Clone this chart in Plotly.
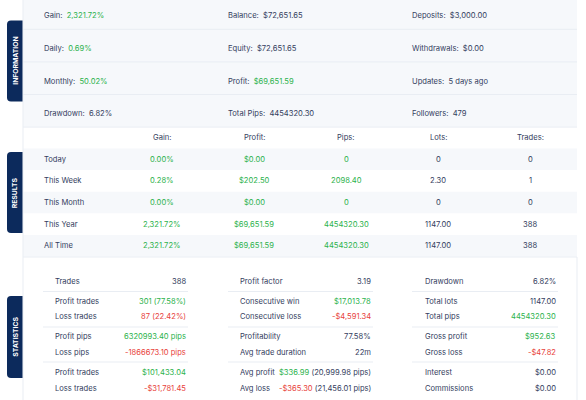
import plotly.graph_objects as go

# ---- data ----
INFO_LABELS = [
    ['Gain:', 'Balance:', 'Deposits:'],
    ['Daily:', 'Equity:', 'Withdrawals:'],
    ['Monthly:', 'Profit:', 'Updates:'],
    ['Drawdown:', 'Total Pips:', 'Followers:'],
]
INFO_VALUES = [
    ['2,321.72%', '$72,651.65', '$3,000.00'],
    ['0.69%', '$72,651.65', '$0.00'],
    ['50.02%', '$69,651.59', '5 days ago'],
    ['6.82%', '4454320.30', '479'],
]
INFO_GREEN = {'Gain:', 'Daily:', 'Monthly:', 'Profit:'}

RESULT_COLUMNS = ['Gain:', 'Profit:', 'Pips:', 'Lots:', 'Trades:']
RESULT_ROWS = ['Today', 'This Week', 'This Month', 'This Year', 'All Time']
RESULT_GAIN = ['0.00%', '0.28%', '0.00%', '2,321.72%', '2,321.72%']
RESULT_PROFIT = ['$0.00', '$202.50', '$0.00', '$69,651.59', '$69,651.59']
RESULT_PIPS = ['0', '2098.40', '0', '4454320.30', '4454320.30']
RESULT_LOTS = ['0', '2.30', '0', '1147.00', '1147.00']
RESULT_TRADES = ['0', '1', '0', '388', '388']
RESULT_GREEN_COLS = {'Gain:', 'Profit:', 'Pips:'}

STAT_LABELS_1 = ['Trades', 'Profit trades', 'Loss trades', 'Profit pips', 'Loss pips', 'Profit trades', 'Loss trades']
STAT_VALUES_1 = ['388', '301 (77.58%)', '87 (22.42%)', '6320993.40 pips', '-1866673.10 pips', '$101,433.04', '-$31,781.45']
STAT_LABELS_2 = ['Profit factor', 'Consecutive win', 'Consecutive loss', 'Profitability', 'Avg trade duration', 'Avg profit', 'Avg loss']
STAT_VALUES_2 = ['3.19', '$17,013.78', '-$4,591.34', '77.58%', '22m', '$336.99', '-$365.30']
STAT_EXTRA_2 = ['', '', '', '', '', '(20,999.98 pips)', '(21,456.01 pips)']
STAT_LABELS_3 = ['Drawdown', 'Total lots', 'Total pips', 'Gross profit', 'Gross loss', 'Interest', 'Commissions']
STAT_VALUES_3 = ['6.82%', '1147.00', '4454320.30', '$952.63', '-$47.82', '$0.00', '$0.00']
STAT_GREEN = {'Profit trades', 'Profit pips', 'Consecutive win', 'Avg profit', 'Total pips', 'Gross profit'}
STAT_RED = {'Loss trades', 'Loss pips', 'Consecutive loss', 'Avg loss', 'Gross loss'}

TABS = ['INFORMATION', 'RESULTS', 'STATISTICS']

# ---- style ----
FONT = 'Inter'
TXT = '#34405e'
GREEN = '#2bb24c'
RED = '#e8413b'
NAVY = '#0c2a5c'
PANEL = '#f6f8fb'
LINE = '#e9edf3'
FS = 7.6

W, H = 586, 400
X0, X1 = 23, 577

fig = go.Figure()
shapes = []
ann = []


def tone(label, value, greens, reds=()):
    if value.startswith('-') or label in reds:
        return RED
    if label in greens:
        return GREEN
    return TXT


def text(x, y, s, color=TXT, anchor='left', size=FS):
    ann.append(dict(x=x, y=y, xref='x', yref='y', text=s, showarrow=False,
                    xanchor=anchor, yanchor='middle',
                    font=dict(family=FONT, size=size, color=color)))


def hline(xa, xb, y, color=LINE):
    shapes.append(dict(type='line', xref='x', yref='y', x0=xa, x1=xb, y0=y, y1=y,
                       line=dict(color=color, width=1)))


def rect(xa, xb, ya, yb, fill):
    shapes.append(dict(type='rect', xref='x', yref='y', x0=xa, x1=xb, y0=ya, y1=yb,
                       fillcolor=fill, line=dict(width=0), layer='below'))


def tab(y_top, y_bot, label):
    r = 4
    xl, xr = 7, 22.5
    path = (f'M {xr},{y_top} L {xl + r},{y_top} Q {xl},{y_top} {xl},{y_top + r} '
            f'L {xl},{y_bot - r} Q {xl},{y_bot} {xl + r},{y_bot} L {xr},{y_bot} Z')
    shapes.append(dict(type='path', xref='x', yref='y', path=path,
                       fillcolor=NAVY, line=dict(width=0)))
    ann.append(dict(x=(xl + xr) / 2, y=(y_top + y_bot) / 2, xref='x', yref='y',
                    text=f'<b>{label}</b>', showarrow=False, textangle=-90,
                    xanchor='center', yanchor='middle',
                    font=dict(family=FONT, size=6.8, color='white')))


# ---- information panel ----
rect(X0, X1, -2, 127, PANEL)
info_x = [42, 226, 410]
for i, (labels, values) in enumerate(zip(INFO_LABELS, INFO_VALUES)):
    y = 15.5 + 32.8 * i
    for j, (lab, val) in enumerate(zip(labels, values)):
        col = tone(lab, val, INFO_GREEN)
        text(info_x[j], y, f'{lab}&nbsp;&nbsp;<span style="color:{col}">{val}</span>')
    hline(X0, X1, 29.3 + 32.6 * i)

# ---- results panel ----
res_x = [162, 254, 346, 438, 530]
text_cols = [RESULT_GAIN, RESULT_PROFIT, RESULT_PIPS, RESULT_LOTS, RESULT_TRADES]
for j, c in enumerate(RESULT_COLUMNS):
    text(res_x[j], 137.5, c, anchor='center')
for i, row in enumerate(RESULT_ROWS):
    yc = 159.3 + 21.6 * i
    if i % 2 == 0:
        rect(X0, X1, yc - 10.8, yc + 10.8, PANEL)
    text(42, yc, row)
    for j, c in enumerate(RESULT_COLUMNS):
        col = GREEN if c in RESULT_GREEN_COLS else TXT
        text(res_x[j], yc, text_cols[j][i], color=col, anchor='center')
hline(X0, X1, 257)

# ---- statistics panel ----
stat_cols = [
    (53, 188, 43, STAT_LABELS_1, STAT_VALUES_1, None),
    (238, 373, 228, STAT_LABELS_2, STAT_VALUES_2, STAT_EXTRA_2),
    (423, 558, 412, STAT_LABELS_3, STAT_VALUES_3, None),
]
stat_y = [281, 301, 316.5, 336, 352, 372, 388]
for lx, vx, sx, labels, values, extra in stat_cols:
    for k, (lab, val) in enumerate(zip(labels, values)):
        text(lx, stat_y[k], lab)
        col = tone(lab, val, STAT_GREEN, STAT_RED)
        s = f'<span style="color:{col}">{val}</span>'
        if extra and extra[k]:
            s += f' {extra[k]}'
        text(vx, stat_y[k], s, anchor='right')
    for y in (291.5, 327, 362):
        hline(sx, vx, y)

# panel borders
shapes.append(dict(type='line', xref='x', yref='y', x0=X0, x1=X0, y0=-2, y1=H + 2,
                   line=dict(color=LINE, width=1)))
shapes.append(dict(type='line', xref='x', yref='y', x0=X1, x1=X1, y0=257, y1=H + 2,
                   line=dict(color=LINE, width=1)))

# tabs
tab(20.5, 101.5, TABS[0])
tab(152, 233, TABS[1])
tab(296, 378, TABS[2])

fig.update_layout(
    width=W, height=H,
    margin=dict(l=0, r=0, t=0, b=0),
    paper_bgcolor='white', plot_bgcolor='white',
    xaxis=dict(range=[0, W], visible=False, fixedrange=True),
    yaxis=dict(range=[H, 0], visible=False, fixedrange=True),
    shapes=shapes, annotations=ann, showlegend=False,
)

# drop the browser's default body margin so the figure sits at the window corner
fig.write_html('out.html', config={'displayModeBar': False},
               post_script="document.body.style.margin='0';document.body.style.overflow='hidden';")
